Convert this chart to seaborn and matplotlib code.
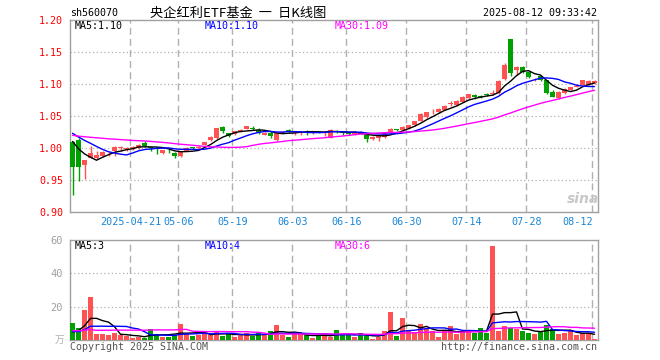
import numpy as np
import pandas as pd
import matplotlib
matplotlib.use("Agg")
import matplotlib.pyplot as plt
import seaborn as sns

# ---------------- data ----------------
open_ = [1.010, 1.013, 0.973, 0.984, 0.984, 0.987, 0.990, 0.996, 1.000, 0.998,
         1.000, 1.000, 1.008, 1.001, 1.000, 0.9915, 0.996, 0.992, 0.988, 0.996,
         1.001, 1.000, 1.005, 1.012, 1.015, 1.033, 1.023, 1.022, 1.027, 1.030,
         1.032, 1.0285, 1.021, 1.024, 1.012, 1.024, 1.028, 1.024, 1.023, 1.027,
         1.025, 1.026, 1.024, 1.016, 1.027, 1.026, 1.0225, 1.021, 1.025, 1.021,
         1.0145, 1.016, 1.017, 1.023, 1.029, 1.0275, 1.031, 1.036, 1.0425, 1.048,
         1.056, 1.056, 1.060, 1.069, 1.067, 1.0725, 1.078, 1.083, 1.082, 1.085,
         1.085, 1.086, 1.108, 1.170, 1.122, 1.126, 1.119, 1.1055, 1.112, 1.106,
         1.088, 1.078, 1.086, 1.091, 1.096, 1.099, 1.099, 1.101]
high = [1.011, 1.016, 0.982, 1.0025, 0.996, 0.995, 0.993, 1.003, 1.003, 1.001,
        1.003, 1.006, 1.011, 1.002, 1.001, 0.997, 0.998, 0.993, 0.994, 1.002,
        1.002, 1.003, 1.010, 1.018, 1.032, 1.035, 1.024, 1.027, 1.029, 1.035,
        1.034, 1.031, 1.025, 1.026, 1.023, 1.026, 1.029, 1.025, 1.025, 1.028,
        1.026, 1.027, 1.026, 1.029, 1.028, 1.026, 1.024, 1.026, 1.026, 1.0215,
        1.018, 1.020, 1.024, 1.031, 1.030, 1.034, 1.036, 1.042, 1.054, 1.057,
        1.061, 1.062, 1.067, 1.073, 1.075, 1.081, 1.085, 1.084, 1.083, 1.086,
        1.090, 1.106, 1.133, 1.171, 1.128, 1.128, 1.120, 1.109, 1.113, 1.107,
        1.090, 1.089, 1.093, 1.096, 1.100, 1.107, 1.107, 1.106]
low = [0.927, 0.949, 0.951, 0.984, 0.983, 0.986, 0.987, 0.988, 0.996, 0.996,
       0.997, 0.998, 1.001, 0.995, 0.990, 0.990, 0.992, 0.984, 0.986, 0.995,
       0.998, 0.999, 1.004, 1.011, 1.014, 1.023, 1.017, 1.021, 1.025, 1.029,
       1.028, 1.022, 1.020, 1.016, 1.011, 1.023, 1.024, 1.020, 1.021, 1.020,
       1.022, 1.024, 1.018, 1.015, 1.023, 1.020, 1.021, 1.020, 1.022, 1.010,
       1.013, 1.011, 1.015, 1.022, 1.027, 1.027, 1.030, 1.035, 1.042, 1.047,
       1.053, 1.055, 1.059, 1.066, 1.066, 1.072, 1.077, 1.077, 1.078, 1.081,
       1.083, 1.085, 1.107, 1.112, 1.114, 1.117, 1.110, 1.104, 1.105, 1.084,
       1.079, 1.077, 1.085, 1.090, 1.095, 1.098, 1.098, 1.100]
close = [0.971, 0.971, 0.982, 0.992, 0.9885, 0.994, 0.991, 1.001, 1.001, 1.000,
         1.001, 1.005, 1.0025, 1.000, 0.999, 0.997, 0.995, 0.987, 0.993, 1.000,
         1.000, 1.001, 1.009, 1.017, 1.031, 1.026, 1.019, 1.026, 1.027, 1.035,
         1.030, 1.0235, 1.023, 1.018, 1.023, 1.0245, 1.027, 1.025, 1.024, 1.026,
         1.026, 1.0245, 1.0245, 1.0285, 1.025, 1.023, 1.022, 1.025, 1.022, 1.0145,
         1.017, 1.018, 1.023, 1.030, 1.0285, 1.0335, 1.036, 1.0415, 1.0535, 1.056,
         1.057, 1.061, 1.066, 1.070, 1.074, 1.080, 1.084, 1.079, 1.080, 1.083,
         1.0865, 1.105, 1.130, 1.117, 1.127, 1.119, 1.1115, 1.1065, 1.106, 1.086,
         1.080, 1.088, 1.092, 1.095, 1.097, 1.106, 1.105, 1.105]
volume = [10.5, 7.5, 17.8, 25.6, 3.6, 3.6, 3.0, 4.0, 3.0, 2.4,
          1.4, 1.6, 1.4, 6.9, 3.6, 2.0, 2.0, 3.2, 9.7, 3.6,
          2.6, 3.2, 4.0, 2.8, 5.7, 2.6, 3.4, 2.0, 3.0, 4.4,
          2.4, 4.0, 3.0, 5.7, 9.3, 3.0, 2.0, 3.6, 3.6, 2.8,
          1.4, 2.4, 4.0, 2.0, 6.1, 3.0, 3.0, 2.0, 4.0, 3.0,
          0.8, 2.0, 5.7, 16.6, 2.4, 13.5, 6.1, 4.6, 9.7, 6.9,
          5.3, 2.0, 5.3, 8.7, 3.6, 5.3, 5.3, 4.4, 7.1, 4.4,
          56.6, 5.3, 8.7, 7.1, 6.5, 5.3, 4.4, 3.6, 5.3, 9.3,
          6.9, 3.6, 4.4, 5.3, 3.0, 4.0, 4.0, 0.8]
# estimated sessions before the first visible day (only feed the moving averages)
prior_close = [1.010, 1.012, 1.015, 1.013, 1.016, 1.018, 1.017, 1.020, 1.019, 1.021,
               1.018, 1.016, 1.019, 1.022, 1.020, 1.021, 1.019, 1.022, 1.024, 1.023,
               1.030, 1.034, 1.038, 1.037, 1.040, 1.028, 1.022, 1.018, 1.012]
prior_volume = [9, 8, 14, 18, 2.5, 2, 3, 2, 2.5, 2, 2.2, 2.5, 2, 2.3, 2.4, 2, 2.6,
                2.5, 2.0, 35, 7, 6, 5, 4, 3.1, 4, 3.5, 3.5, 3.4]
holidays = ["2025-05-01", "2025-05-02", "2025-05-05", "2025-06-02"]
tick_dates = ["2025-04-21", "2025-05-06", "2025-05-19", "2025-06-03", "2025-06-16",
              "2025-06-30", "2025-07-14", "2025-07-28", "2025-08-12"]
tick_labels = ["2025-04-21", "05-06", "05-19", "06-03", "06-16",
               "06-30", "07-14", "07-28", "08-12"]
price_ticks = [0.90, 0.95, 1.00, 1.05, 1.10, 1.15, 1.20]
vol_ticks = [20, 40, 60]

# ---------------- prep ----------------
dates = pd.bdate_range("2025-04-07", "2025-08-12")
dates = dates[~dates.isin(pd.to_datetime(holidays))]
n = len(close)
idx = np.arange(n)
df = pd.DataFrame({"i": idx, "open": open_, "high": high, "low": low,
                   "close": close, "vol": volume})
allc = pd.Series(prior_close + close)
allv = pd.Series(prior_volume + volume)
for w in (5, 10, 30):
    df[f"ma{w}"] = allc.rolling(w).mean().iloc[len(prior_close):].to_numpy()
    df[f"vma{w}"] = allv.rolling(w).mean().iloc[len(prior_volume):].to_numpy()

RED = "#ff5252"
GREEN = "#00a000"
up = df["close"] >= df["open"]
colors = np.where(up, RED, GREEN)
tick_pos = [int(np.where(dates == pd.Timestamp(d))[0][0]) for d in tick_dates]

sns.set_style("white")
plt.rcParams["font.family"] = ["DejaVu Sans Mono", "Noto Sans CJK SC"]

W, H = 660, 360
fig = plt.figure(figsize=(6.6, 3.6), dpi=100)
ax = fig.add_axes([70 / W, 1 - 212 / H, 528 / W, 192 / H])
axv = fig.add_axes([70 / W, 1 - 340 / H, 528 / W, 100 / H])

OFF = 0.42
xlim = (-OFF, n - OFF)
GRID = "#b0b0b0"

for a in (ax, axv):
    a.set_xlim(*xlim)
    for s in a.spines.values():
        s.set_color("#a0a0a0")
        s.set_linewidth(1)
    for p in tick_pos:
        a.axvline(p - OFF + 0.08, color=GRID, lw=1, ls=(0, (5, 3)), zorder=0)
    a.set_xticks([])

# price panel
ax.set_ylim(0.90, 1.20)
for t in price_ticks[1:-1]:
    ax.axhline(t, color=GRID, lw=0.9, ls=(0, (1, 2)), zorder=0)
ax.set_yticks(price_ticks)
ax.set_yticklabels([f"{t:.2f}" for t in price_ticks], color="#ff0000", fontsize=7.2)
ax.tick_params(axis="y", length=0, pad=5)

body_w = 5 / 6
ax.vlines(df["i"], df["low"], df["high"], colors=colors, lw=1, zorder=3)
bh = np.maximum((df["close"] - df["open"]).abs(), 0.0009)
ax.bar(df["i"], bh, bottom=np.minimum(df["open"], df["close"]), width=body_w,
       color=colors, linewidth=0, zorder=4)

sns.lineplot(data=df, x="i", y="ma5", ax=ax, color="black", lw=1, zorder=5)
sns.lineplot(data=df, x="i", y="ma10", ax=ax, color="#0000ff", lw=1, zorder=5)
sns.lineplot(data=df, x="i", y="ma30", ax=ax, color="#ff00ff", lw=1, zorder=5)
ax.set_xlabel("")
ax.set_ylabel("")

for p, lab in zip(tick_pos, tick_labels):
    ha = "right" if p == n - 1 else "center"
    xx = p - OFF + 0.08 + (0.1 if ha == "right" else 0)
    ax.text(xx, -0.052, lab, transform=ax.get_xaxis_transform(), ha=ha, va="center",
            color="#1a86d6", fontsize=7.3)

# volume panel
axv.set_ylim(0, 60)
for t in vol_ticks[:-1]:
    axv.axhline(t, color=GRID, lw=0.9, ls=(0, (1, 2)), zorder=0)
axv.bar(df["i"], df["vol"], width=body_w, color=colors, linewidth=0, zorder=3)
sns.lineplot(data=df, x="i", y="vma5", ax=axv, color="black", lw=1, zorder=5)
sns.lineplot(data=df, x="i", y="vma10", ax=axv, color="#0000ff", lw=1, zorder=5)
sns.lineplot(data=df, x="i", y="vma30", ax=axv, color="#ff00ff", lw=1, zorder=5)
axv.set_xlabel("")
axv.set_ylabel("")
axv.set_yticks(vol_ticks)
axv.set_yticklabels([str(t) for t in vol_ticks], color="#a0a0a0", fontsize=7.5)
axv.tick_params(axis="y", length=0, pad=5)

# texts
def px(x, y):
    return x / W, 1 - y / H

fig.text(*px(70, 13), "sh560070", fontsize=7.2, color="black", va="center")
fig.text(*px(150, 13), "央企红利ETF基金  一  日K线图", fontsize=9.5, color="black",
         va="center", family=["Noto Sans CJK SC", "DejaVu Sans"])
fig.text(*px(597, 13), "2025-08-12 09:33:42", fontsize=7.2, color="black",
         va="center", ha="right")
fig.text(*px(75, 26), "MA5:1.10", fontsize=7.2, color="black", va="center")
fig.text(*px(205, 26), "MA10:1.10", fontsize=7.2, color="#0000ff", va="center")
fig.text(*px(335, 26), "MA30:1.09", fontsize=7.2, color="#ff00ff", va="center")
fig.text(*px(75, 246), "MA5:3", fontsize=7.2, color="black", va="center")
fig.text(*px(205, 246), "MA10:4", fontsize=7.2, color="#0000ff", va="center")
fig.text(*px(335, 246), "MA30:6", fontsize=7.2, color="#ff00ff", va="center")
fig.text(*px(70, 347), "Copyright 2025 SINA.COM", fontsize=7.2, color="#555555", va="center")
fig.text(*px(597, 347), "http://finance.sina.com.cn", fontsize=7.2, color="#555555",
         va="center", ha="right")
fig.text(*px(64, 340), "万", fontsize=7, color="#b0b0b0", va="center", ha="right",
         family=["Noto Sans CJK SC", "DejaVu Sans"])
fig.text(*px(583, 199), "sina", fontsize=10, color="#c8c8c8", va="center",
         ha="center", style="italic", weight="bold", family="DejaVu Sans")

fig.savefig("out.png", dpi=100)
